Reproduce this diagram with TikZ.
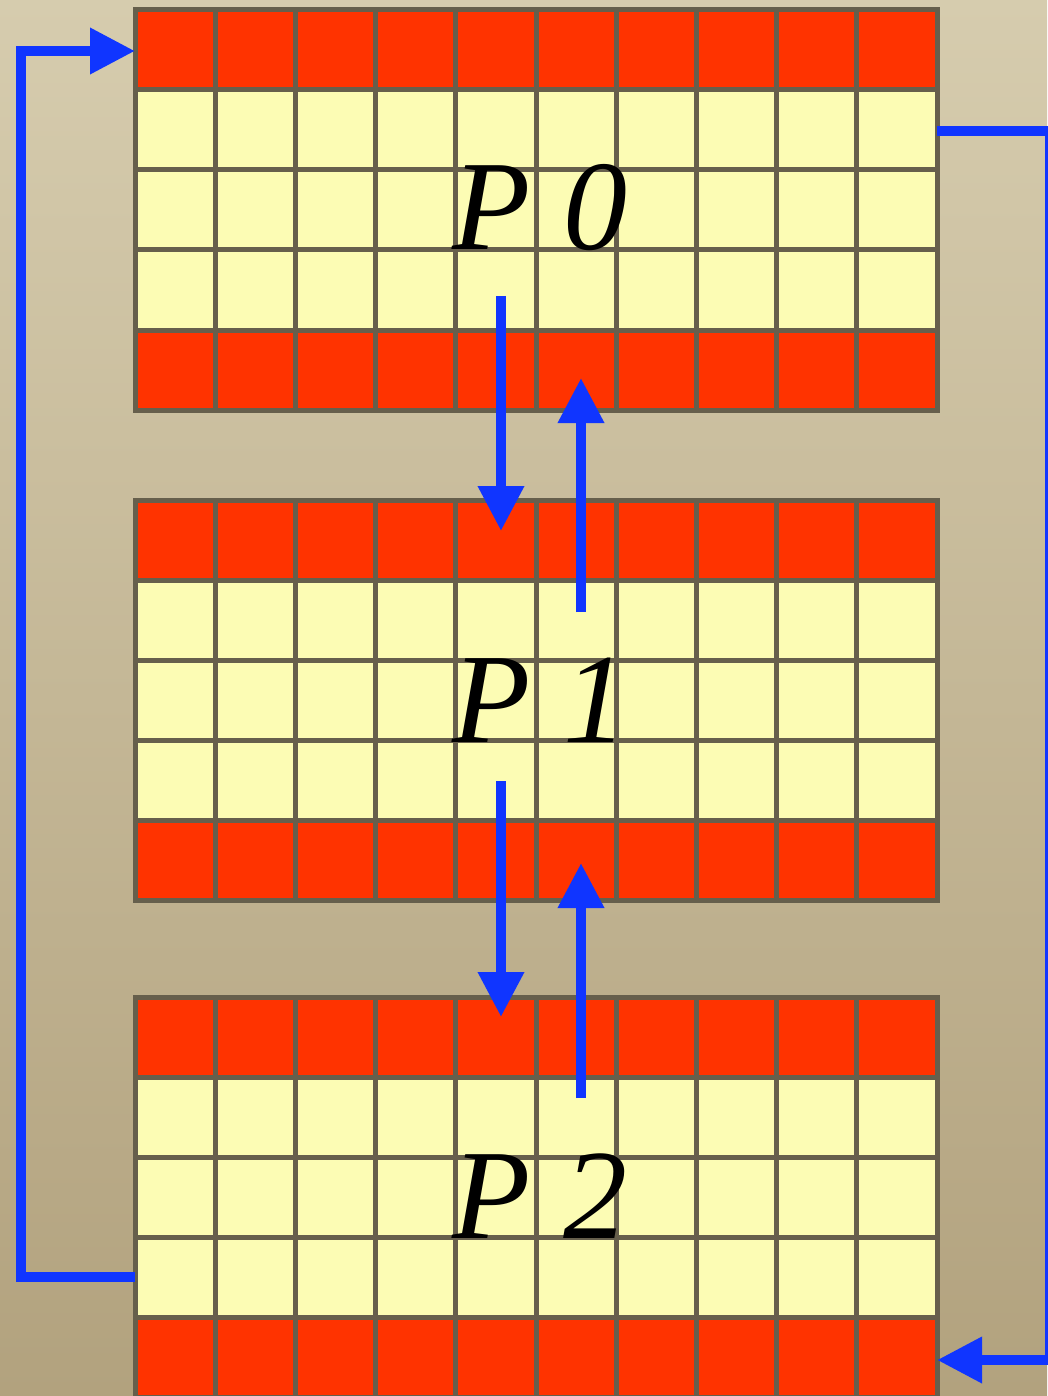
\documentclass[tikz,border=0pt]{standalone}
\usepackage{fontspec}
\setmainfont{Liberation Serif}
\usetikzlibrary{arrows.meta,calc}
\definecolor{bgtop}{RGB}{214,204,174}
\definecolor{bgbot}{RGB}{178,162,126}
\definecolor{halo}{RGB}{255,51,0}
\definecolor{inner}{RGB}{252,252,180}
\definecolor{gridc}{RGB}{102,95,76}
\definecolor{arr}{RGB}{16,53,255}
\tikzset{
  block/.style={minimum width=802pt,minimum height=400pt,inner sep=0pt,outer sep=0pt},
  lab/.style={font=\fontsize{128}{128}\selectfont\itshape,inner sep=0pt,anchor=base},
  flow/.style={draw=arr,line width=10pt,line join=miter,-{Triangle[length=45pt,width=44pt]}},
  cellline/.style={draw=gridc,line width=5pt,line cap=rect}
}
\newcommand{\drawgrid}[1]{%
  \fill[halo] ($(#1.north west)$) rectangle ($(#1.north east)+(0,80)$);
  \fill[inner] ($(#1.north west)+(0,80)$) rectangle ($(#1.south east)+(0,-80)$);
  \fill[halo] ($(#1.south west)+(0,-80)$) rectangle ($(#1.south east)$);
  \foreach \i in {0,...,10}{\draw[cellline] ($(#1.north west)+(80.2*\i,0)$) -- ($(#1.south west)+(80.2*\i,0)$);}
  \foreach \j in {0,...,5}{\draw[cellline] ($(#1.north west)+(0,80*\j)$) -- ($(#1.north east)+(0,80*\j)$);}
}
\begin{document}
\begin{tikzpicture}[x=1pt,y=-1pt]
\shade[top color=bgtop,bottom color=bgbot] (0,0) rectangle (1047,1396);
\useasboundingbox (0,0) rectangle (1047,1396);
\node[block] (g0) at (536,210) {};
\node[block] (g1) at (536,700) {};
\node[block] (g2) at (536,1197) {};
\drawgrid{g0}
\drawgrid{g1}
\drawgrid{g2}
\node[lab] (p0) at (540,250) {P 0};
\node[lab] (p1) at (540,742) {P 1};
\node[lab] (p2) at (540,1238) {P 2};
% vertical exchanges
\coordinate (a0s) at (501,296); \coordinate (a0e) at (501,531);
\coordinate (b0s) at (581,612); \coordinate (b0e) at (581,378);
\coordinate (a1s) at (501,781); \coordinate (a1e) at (501,1017);
\coordinate (b1s) at (581,1098); \coordinate (b1e) at (581,863);
\draw[flow] (a0s) -- (a0e);
\draw[flow] (b0s) -- (b0e);
\draw[flow] (a1s) -- (a1e);
\draw[flow] (b1s) -- (b1e);
% wrap-around
\coordinate (l0) at (g2.west |- 0,1277);
\coordinate (l1) at (g0.west |- 0,51);
\draw[flow] (l0) -- (21,1277) -- (21,51) -- (l1);
\coordinate (r0) at (g0.east |- 0,131);
\coordinate (r1) at (g2.east |- 0,1360);
\draw[flow] (r0) -- (1050,131) -- (1050,1360) -- (r1);
\end{tikzpicture}
\end{document}
